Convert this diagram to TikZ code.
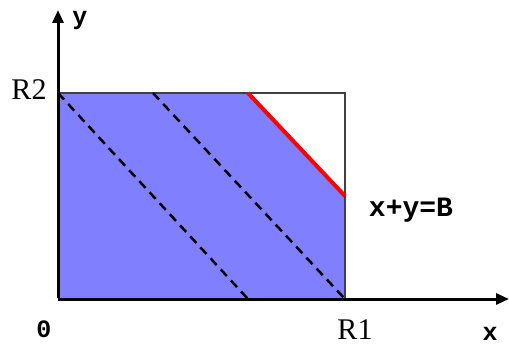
\documentclass[tikz,border=0pt]{standalone}
\usepackage{fontspec}
\setmainfont{Liberation Serif}
\newfontfamily\monofont{Liberation Mono}
\usetikzlibrary{arrows.meta}
\begin{document}
\begin{tikzpicture}[x=1pt,y=-1pt,
  axis/.style={line width=3pt,-{Triangle[length=13pt,width=11pt]}},
  dashline/.style={line width=2.5pt,dash pattern=on 9pt off 6pt},
  lbl/.style={inner sep=0pt,font=\fontsize{30}{32}\selectfont},
  axlbl/.style={inner sep=0pt,font=\monofont\bfseries\fontsize{25}{27}\selectfont}]
\useasboundingbox (0,0) rectangle (509,345);
\coordinate (O) at (58,299);
\coordinate (TL) at (58,93);
\coordinate (TR) at (345,93);
\coordinate (BR) at (345,299);
\coordinate (RA) at (248,93);
\coordinate (RB) at (345,196);
\coordinate (D1a) at (58,93);
\coordinate (D1b) at (248,299);
\coordinate (D2a) at (153,93);
\coordinate (D2b) at (345,299);
\coordinate (XT) at (509,299);
\coordinate (YT) at (58,10);
\fill[fill={rgb,255:red,128;green,128;blue,255}] (O) -- (TL) -- (RA) -- (RB) -- (BR) -- cycle;
\draw[line width=2pt,black!75] (TL) -- (TR) -- (BR);
\draw[dashline] (D1a) -- (D1b);
\draw[dashline] (D2a) -- (D2b);
\draw[red,line width=4pt] (RA) -- (RB);
\draw[axis] (O) -- (XT);
\draw[axis] ([yshift=1.5pt]O) -- (YT);
\node[lbl] (r2) at (29,90) {R2};
\node[lbl] (r1) at (355,330) {R1};
\node[axlbl] (ylab) at (80,20) {y};
\node[axlbl] (zero) at (44,329) {0};
\node[axlbl] (xlab) at (490,334) {x};
\node[inner sep=0pt,font=\monofont\bfseries\fontsize{28}{30}\selectfont] (eq) at (411,210) {x+y=B};
\end{tikzpicture}
\end{document}
